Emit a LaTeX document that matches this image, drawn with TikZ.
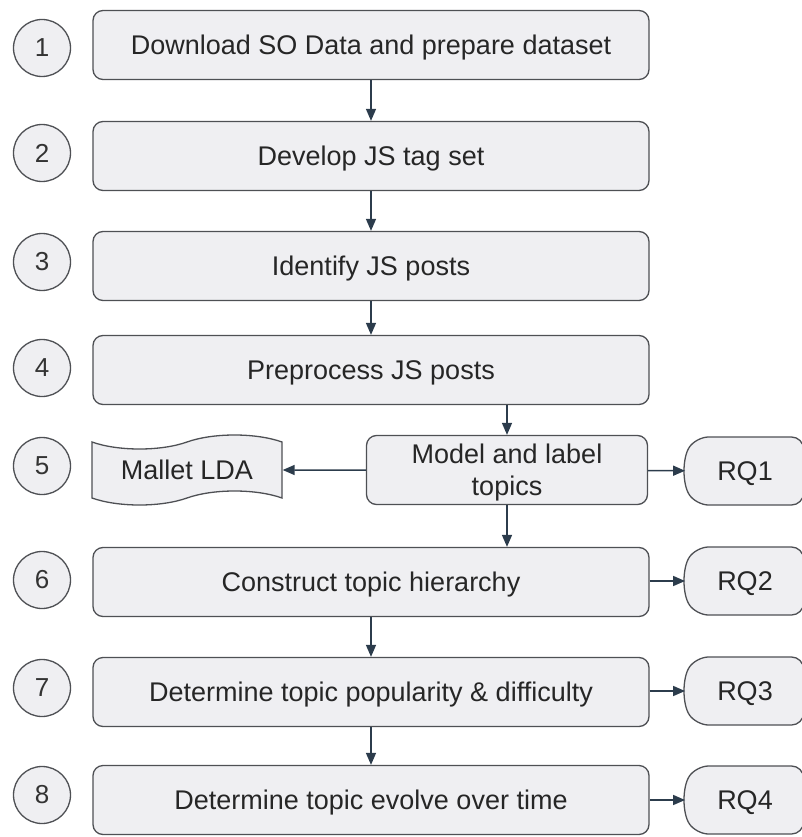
\documentclass[tikz,border=0pt]{standalone}
\usepackage{fontspec}
\setmainfont{Liberation Sans}
\usepackage{xcolor}
\usetikzlibrary{positioning, calc, shapes.symbols, shapes.misc, arrows.meta}

\definecolor{boxfill}{RGB}{239,239,242}
\definecolor{boxline}{RGB}{78,80,84}
\definecolor{flowline}{RGB}{44,60,76}

\tikzset{
  stepbox/.style={draw=boxline, fill=boxfill, line width=1.3pt, rounded corners=10pt,
    minimum width=556pt, minimum height=69pt, inner sep=2pt, align=center,
    text depth=0pt, text=black!85, font=\fontsize{27}{32}\selectfont},
  numcirc/.style={circle, draw=boxline, fill=boxfill, line width=1.3pt,
    minimum size=57pt, inner sep=0pt, text=black!80, font=\fontsize{26}{30}\selectfont},
  toolbox/.style={tape, draw=boxline, fill=boxfill, line width=1.3pt,
    minimum width=190pt, minimum height=70pt, tape bend height=14pt,
    text=black!85, font=\fontsize{27}{31}\selectfont},
  rqbox/.style={rounded rectangle, rounded rectangle right arc=none,
    rounded rectangle arc length=70, rounded corners=12pt,
    draw=boxline, fill=boxfill, line width=1.3pt,
    minimum width=110pt, minimum height=68pt, inner sep=2pt,
    text depth=0pt, text=black!85, font=\fontsize{27}{31}\selectfont},
  flow/.style={draw=flowline, line width=1.5pt, -{Triangle[length=12pt,width=10pt]}}
}

\begin{document}
\begin{tikzpicture}[x=1pt, y=-1pt]
  \useasboundingbox (0,0) rectangle (802,837);

  % steps
  \node[stepbox] (dl) at (371,45) {Download SO Data and prepare dataset};
  \node[stepbox] (tag) at (371,156) {Develop JS tag set};
  \node[stepbox] (ident) at (371,266) {Identify JS posts};
  \node[stepbox] (prep) at (371,370) {Preprocess JS posts};
  \node[stepbox, minimum width=281pt] (model) at (507,470) {Model and label\\topics};
  \node[stepbox] (hier) at (371,582) {Construct topic hierarchy};
  \node[stepbox] (pop) at (371,692) {Determine topic popularity \& difficulty};
  \node[stepbox] (evo) at (371,800) {Determine topic evolve over time};
  \node[toolbox] (lda) at (187,470) {Mallet LDA};

  % step numbers
  \node[numcirc] (n1) at (42,48) {1};
  \node[numcirc] (n2) at (42,153) {2};
  \node[numcirc] (n3) at (42,262) {3};
  \node[numcirc] (n4) at (42,368) {4};
  \node[numcirc] (n5) at (42,466) {5};
  \node[numcirc] (n6) at (42,580) {6};
  \node[numcirc] (n7) at (42,688) {7};
  \node[numcirc] (n8) at (42,795) {8};

  % research questions
  \node[rqbox] (rq1) at (745,471) {RQ1};
  \node[rqbox] (rq2) at (745,581) {RQ2};
  \node[rqbox] (rq3) at (745,691) {RQ3};
  \node[rqbox] (rq4) at (745,800) {RQ4};

  \draw[flow] (dl) -- (tag);
  \draw[flow] (tag) -- (ident);
  \draw[flow] (ident) -- (prep);
  \draw[flow] (prep.south -| model.north) -- (model.north);
  \draw[flow] (model.south) -- (model.south |- hier.north);
  \draw[flow] (hier) -- (pop);
  \draw[flow] (pop) -- (evo);
  \draw[flow] (model) -- (lda);
  \draw[flow] (model) -- (rq1);
  \draw[flow] (hier.east |- rq2) -- (rq2);
  \draw[flow] (pop.east |- rq3) -- (rq3);
  \draw[flow] (evo) -- (rq4);
\end{tikzpicture}
\end{document}
